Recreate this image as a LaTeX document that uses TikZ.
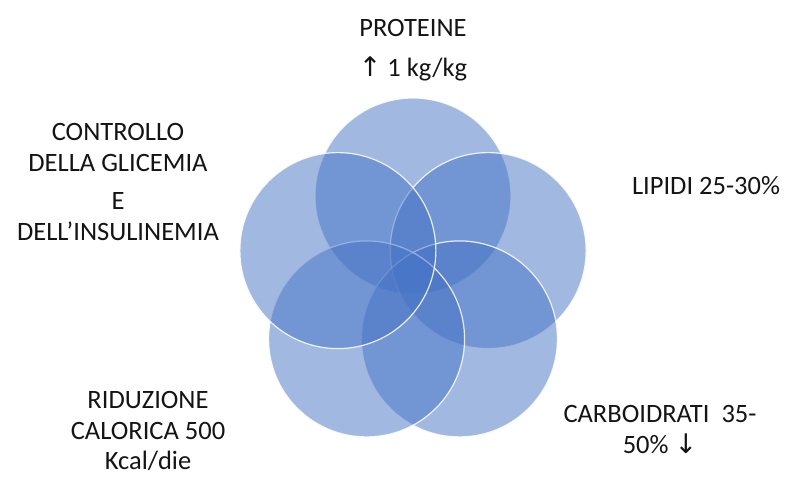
\documentclass[tikz,border=0pt]{standalone}
\usepackage{fontspec}
\setmainfont{Carlito}
\newfontfamily\arrowfont{DejaVu Sans}
\usepackage{tikz}
\usetikzlibrary{positioning,calc}
\definecolor{vblue}{RGB}{68,114,196}
\definecolor{vtext}{RGB}{20,20,20}

\begin{document}
\begin{tikzpicture}[x=1pt,y=-1pt,
  petal/.style={circle,minimum size=196pt,inner sep=0pt,fill=vblue,fill opacity=0.5,draw=white,draw opacity=0.85,line width=1.2pt},
  lbl/.style={text=vtext,align=center,font=\fontsize{26.5}{30.5}\selectfont}]
  \useasboundingbox (0,0) rectangle (808,495);
  % circles
  \coordinate (mid) at (413,275);
  \foreach \a/\n in {90/top,18/right,-54/botr,-126/botl,162/left}
    \node[petal] (\n) at ($(mid)+(\a:79pt)$) {};
  % labels
  \node[lbl] (prot) at (413,28) {PROTEINE};
  \node[lbl] (protv) at (413,69) {{\arrowfont\fontsize{27}{30}\selectfont ↑} 1 kg/kg};
  \node[lbl] (lip) at (706,186) {LIPIDI 25-30\%};
  \node[lbl,anchor=north] (glic) at (118,120) {CONTROLLO\\DELLA GLICEMIA\\[8pt]E\\DELL’INSULINEMIA};
  \node[lbl,anchor=north] (rid) at (148,388) {RIDUZIONE\\CALORICA 500\\Kcal/die};
  \node[lbl,anchor=north] (carb) at (660,402) {CARBOIDRATI\ \ 35-\\50\% {\arrowfont\fontsize{27}{30}\selectfont ↓}};
\end{tikzpicture}
\end{document}
